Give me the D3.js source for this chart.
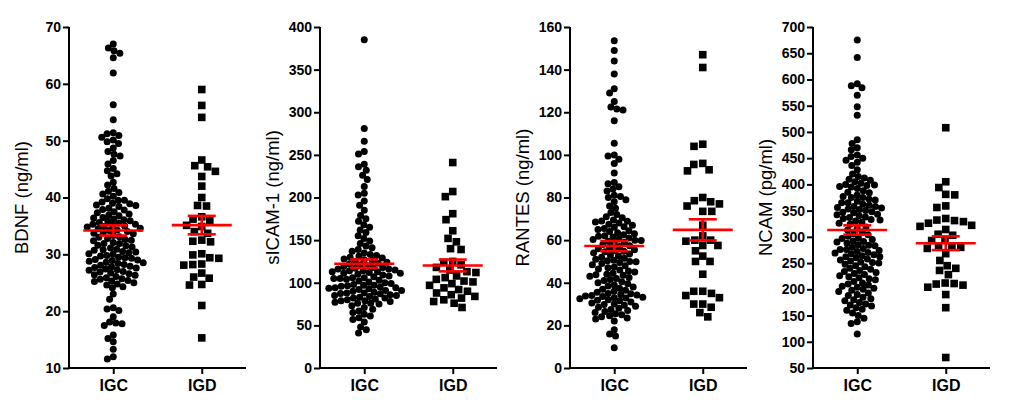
<!DOCTYPE html>
<html>
<head>
<meta charset="utf-8">
<script src="https://cdn.jsdelivr.net/npm/d3@7"></script>
<style>
  html, body { margin: 0; padding: 0; background: #fff; }
  svg { display: block; }
</style>
</head>
<body>
<svg id="chart" width="1036" height="415"></svg>
<script>
// ---------- data ----------
const categories = ["IGC", "IGD"];
const yTitles = ["BDNF (ng/ml)", "sICAM-1 (ng/ml)", "RANTES (ng/ml)", "NCAM (pg/ml)"];

const bdnfTicks = [10, 20, 30, 40, 50, 60, 70];
const sicamTicks = [0, 50, 100, 150, 200, 250, 300, 350, 400];
const rantesTicks = [0, 20, 40, 60, 80, 100, 120, 140, 160];
const ncamTicks = [50, 100, 150, 200, 250, 300, 350, 400, 450, 500, 550, 600, 650, 700];

const bdnfIGC = [67.0, 66.3, 65.8, 65.4, 64.6, 61.9, 56.3, 53.7, 51.4, 51.2, 50.9, 50.6, 50.1, 49.8, 49.5, 48.7, 48.1, 47.6, 47.3, 46.5, 45.9, 45.1,
  44.7, 44.2, 43.8, 42.7, 42.2, 41.6, 41.1, 40.9, 40.6, 40.2,
  39.8, 39.5, 39.5, 39.2, 39.0, 38.9, 38.7, 38.6, 38.4, 38.1, 37.9, 37.8, 37.5, 37.3, 37.1, 36.9, 36.8, 36.5, 36.4, 36.2, 36.1, 35.9, 35.8, 35.6, 35.5, 35.3, 35.3, 35.1, 35.0, 34.9,
  34.8, 34.6, 34.5, 34.3, 34.2, 34.0, 33.8, 33.7, 33.6, 33.3, 33.1, 33.0, 32.8, 32.6, 32.5, 32.4, 32.1, 31.9, 31.9, 31.6, 31.5, 31.3, 31.1, 30.9, 30.8, 30.7, 30.5, 30.4, 30.3, 30.1, 30.0,
  29.8, 29.7, 29.5, 29.4, 29.3, 29.1, 29.0, 28.9, 28.8, 28.6, 28.5, 28.4, 28.2, 28.1, 27.9, 27.8, 27.7, 27.6, 27.4, 27.3, 27.2, 27.0, 26.9, 26.7, 26.6, 26.4, 26.3, 26.1, 25.9, 25.7, 25.6, 25.4, 25.3, 25.2, 25.0,
  24.8, 24.6, 24.3, 24.1, 23.0, 22.1, 20.6, 20.4, 20.1, 19.0, 18.1, 17.9, 17.8, 17.5, 15.8, 15.2, 14.6, 13.3, 12.0, 11.6];
const bdnfIGD = [59.0, 56.2, 54.1, 46.6, 45.6, 45.4, 44.6, 43.7, 42.0, 40.0, 38.6, 38.5, 36.6, 36.2, 35.9, 35.1, 34.9, 34.0, 33.7, 32.5, 32.3, 32.2,
  30.1, 29.9, 29.4, 29.3, 28.3, 28.2, 28.1, 26.7, 26.0, 25.8, 24.7, 24.6, 21.0, 15.3];

const sicamIGC = [385, 281, 266, 254, 251, 239, 236, 232, 226, 221, 213, 205, 203, 196, 191, 185, 179, 175, 172, 168, 165, 162, 159, 155, 152, 149, 146, 143, 141,
  139, 137, 135, 133, 132, 131, 130, 129, 128, 127, 126, 125, 124, 123, 122, 121, 120,
  119, 118, 118, 117, 116, 116, 115, 114, 114, 113, 113, 112, 111, 111, 110, 109, 108, 107, 106, 106, 105, 105, 104, 103, 102, 101, 100,
  99, 98, 97, 97, 96.5, 96, 95, 94, 94, 93.5, 93, 92, 91, 91, 90, 89, 88, 88, 87.5, 87, 86, 85, 85, 84, 83, 82, 82, 81, 80, 79, 79, 78, 77, 76, 76, 75,
  73, 71, 69, 67, 65, 63, 61, 59, 57, 54, 48, 45, 41];
const sicamIGD = [241, 207, 201, 181, 174, 161, 152, 148, 140, 139, 125, 124, 121, 118, 115, 113, 112, 108, 106, 104,
  102, 101, 99, 97, 94, 92, 90, 88, 86, 84, 82, 80, 78, 76, 71];

const rantesIGC = [153.5, 149, 144, 138, 131, 129, 125, 122.5, 121.5, 121, 116, 105.5, 100, 99.5, 98, 96, 91.5, 87, 86.5, 85, 84, 83, 81, 80.5, 80, 79, 78, 76, 75, 73, 72, 71, 70.5,
  69.5, 69, 68.8, 68.5, 68, 67.5, 67, 66.3, 66, 65.5, 65, 64.4, 64, 63.5, 63, 62.5, 62.1, 61.8, 61.5, 61, 60.5, 60.3, 60, 59.8,
  59.5, 59, 58.5, 58, 57.4, 57, 56.5, 56, 55.5, 55, 54.8, 54.5, 54, 53.5, 53, 52.5, 52, 51.5, 51, 50.5, 50.3, 50, 49.8,
  49.5, 49, 48.5, 48, 47.4, 47, 46.5, 46, 45.5, 45, 44.5, 44, 43.8, 43.5, 43, 42.5, 42, 41.5, 41, 40.5, 40,
  39.5, 39, 38.5, 38, 37.4, 37, 36.5, 36, 35.5, 35, 34.8, 34.5, 34.3, 34, 33.8, 33.5, 33.2, 33, 32.8, 32.5, 32, 31.8, 31.5, 31, 30.5, 30, 29.8,
  29.5, 29, 28.5, 28, 27.5, 27, 26.5, 26, 25.5, 25, 24.5, 24, 23.5, 23, 22, 18, 16, 15, 9.5];
const rantesIGD = [147, 141, 105, 104, 96, 95.5, 93, 92.5, 80, 78.5, 78, 77, 76, 73.5, 73.5, 67, 62, 60, 60, 59.5, 57.5, 57.5, 55, 52.5, 50, 50,
  44, 36, 36, 35, 34, 33, 30, 30, 28.5, 26, 24];

const ncamIGC = [675, 642, 592, 588, 584, 570, 548, 532, 485, 478, 470, 466, 456, 453, 450, 446, 442, 436, 428, 420,
  415, 412, 410, 408, 405, 402, 400, 399, 398, 396, 395, 392, 388, 385, 384, 380, 377, 375, 375, 372, 370, 368, 365, 365, 362, 360, 358, 356, 355, 352, 350,
  358, 353, 347, 342, 337, 332,
  348, 346, 343, 340, 338, 335, 333, 330, 328, 326, 324, 319, 316, 313, 309, 306, 304, 301,
  297, 291, 284, 276, 269, 262,
  298, 295, 292, 290, 288, 285, 283, 280, 278, 276, 274, 272, 270, 268, 266, 264, 262, 260, 258, 256, 254, 252, 251, 250,
  248, 245, 243, 240, 238, 236, 234, 232, 230, 228, 226, 224, 222, 220, 218, 215, 212, 210, 208, 206, 204, 202, 200,
  198, 196, 193, 190, 188, 185, 182, 180, 178, 175, 172, 170, 168, 165, 162, 160, 155, 150, 145, 138, 135, 115];
const ncamIGD = [508, 405, 394, 381, 380, 359, 356, 335, 332, 331, 329, 326, 322, 320, 314, 305, 303, 294, 293,
  283, 282, 278, 280, 268, 255, 245, 240, 236, 228, 212, 211, 210, 208, 204, 190, 165, 70];

const panels = [
  { title: yTitles[0], ticks: bdnfTicks, groups: [bdnfIGC, bdnfIGD] },
  { title: yTitles[1], ticks: sicamTicks, groups: [sicamIGC, sicamIGD] },
  { title: yTitles[2], ticks: rantesTicks, groups: [rantesIGC, rantesIGD] },
  { title: yTitles[3], ticks: ncamTicks, groups: [ncamIGC, ncamIGD] }
];

// ---------- layout ----------
const axisXs = [69, 320, 570, 813];
const plotW = 177;
const yTop = 27, yBottom = 368;
const FONT = '"Liberation Sans", Arial, Helvetica, sans-serif';
const RED = "#ff0000";

const svg = d3.select("#chart");

// beeswarm: place points as close to centre as possible without overlap
function swarm(values, y, dist) {
  const pts = values.map((v, i) => ({ v, y: y(v), x: 0, i }));
  const order = pts.slice().sort((a, b) => b.v - a.v);
  const placed = [];
  for (const p of order) {
    const near = placed.filter(q => Math.abs(q.y - p.y) < dist);
    const cands = [0];
    for (const q of near) {
      const dx = Math.sqrt(dist * dist - (q.y - p.y) ** 2);
      cands.push(q.x + dx, q.x - dx);
    }
    cands.sort((a, b) => Math.abs(a) - Math.abs(b) || a - b);
    for (const c of cands) {
      if (near.every(q => (q.x - c) ** 2 + (q.y - p.y) ** 2 >= dist * dist - 0.01)) {
        p.x = c; break;
      }
    }
    placed.push(p);
  }
  return pts;
}

panels.forEach((pn, k) => {
  const x0 = axisXs[k];
  const g = svg.append("g").attr("transform", `translate(${x0},0)`);
  const y = d3.scaleLinear().domain([pn.ticks[0], pn.ticks[pn.ticks.length - 1]]).range([yBottom, yTop]);
  const x = d3.scalePoint().domain(categories).range([0, plotW]).padding(0.5);

  // points
  pn.groups.forEach((vals, gi) => {
    const cx = x(categories[gi]);
    if (gi === 0) {
      const pts = swarm(vals, y, 6.3);
      g.append("g").selectAll("circle").data(pts).join("circle")
        .attr("cx", d => cx + d.x).attr("cy", d => d.y).attr("r", 3.5).attr("fill", "#000");
    } else {
      const pts = swarm(vals, y, 9);
      const s = 7.6;
      g.append("g").selectAll("rect").data(pts).join("rect")
        .attr("x", d => cx + d.x - s / 2).attr("y", d => d.y - s / 2)
        .attr("width", s).attr("height", s).attr("fill", "#000");
    }
  });

  // mean +/- SEM
  pn.groups.forEach((vals, gi) => {
    const cx = x(categories[gi]);
    const m = d3.mean(vals);
    const sem = d3.deviation(vals) / Math.sqrt(vals.length);
    const eg = g.append("g").attr("stroke", RED).attr("stroke-width", 2.6).attr("fill", "none");
    eg.append("line").attr("x1", cx - 30).attr("x2", cx + 30).attr("y1", y(m)).attr("y2", y(m));
    eg.append("line").attr("x1", cx).attr("x2", cx).attr("y1", y(m - sem)).attr("y2", y(m + sem));
    eg.append("line").attr("x1", cx - 14).attr("x2", cx + 14).attr("y1", y(m + sem)).attr("y2", y(m + sem));
    eg.append("line").attr("x1", cx - 14).attr("x2", cx + 14).attr("y1", y(m - sem)).attr("y2", y(m - sem));
  });

  // axes
  const ya = g.append("g").call(d3.axisLeft(y).tickValues(pn.ticks).tickSize(6).tickPadding(2).tickSizeOuter(0));
  const xa = g.append("g").attr("transform", `translate(0,${yBottom})`)
    .call(d3.axisBottom(x).tickSize(6).tickPadding(6).tickSizeOuter(0));
  [ya, xa].forEach(a => {
    a.select(".domain").attr("stroke", "#000").attr("stroke-width", 2);
    a.selectAll(".tick line").attr("stroke", "#000").attr("stroke-width", 2);
  });
  ya.selectAll(".tick text").attr("font-size", 14).attr("font-weight", "bold").attr("fill", "#000").attr("font-family", FONT);
  xa.selectAll(".tick text").attr("font-size", 16).attr("font-weight", "bold").attr("fill", "#000").attr("font-family", FONT);
  xa.select(".domain").attr("d", `M-1,0H${plotW}`);
  ya.select(".domain").attr("d", `M0,${yTop}V${yBottom + 1}`);

  // y title
  g.append("text")
    .attr("transform", `translate(${-46},${(yTop + yBottom) / 2}) rotate(-90)`)
    .attr("text-anchor", "middle").attr("dominant-baseline", "middle")
    .attr("font-family", FONT).attr("font-size", 18.5).attr("fill", "#000")
    .text(pn.title);
});
</script>
</body>
</html>
